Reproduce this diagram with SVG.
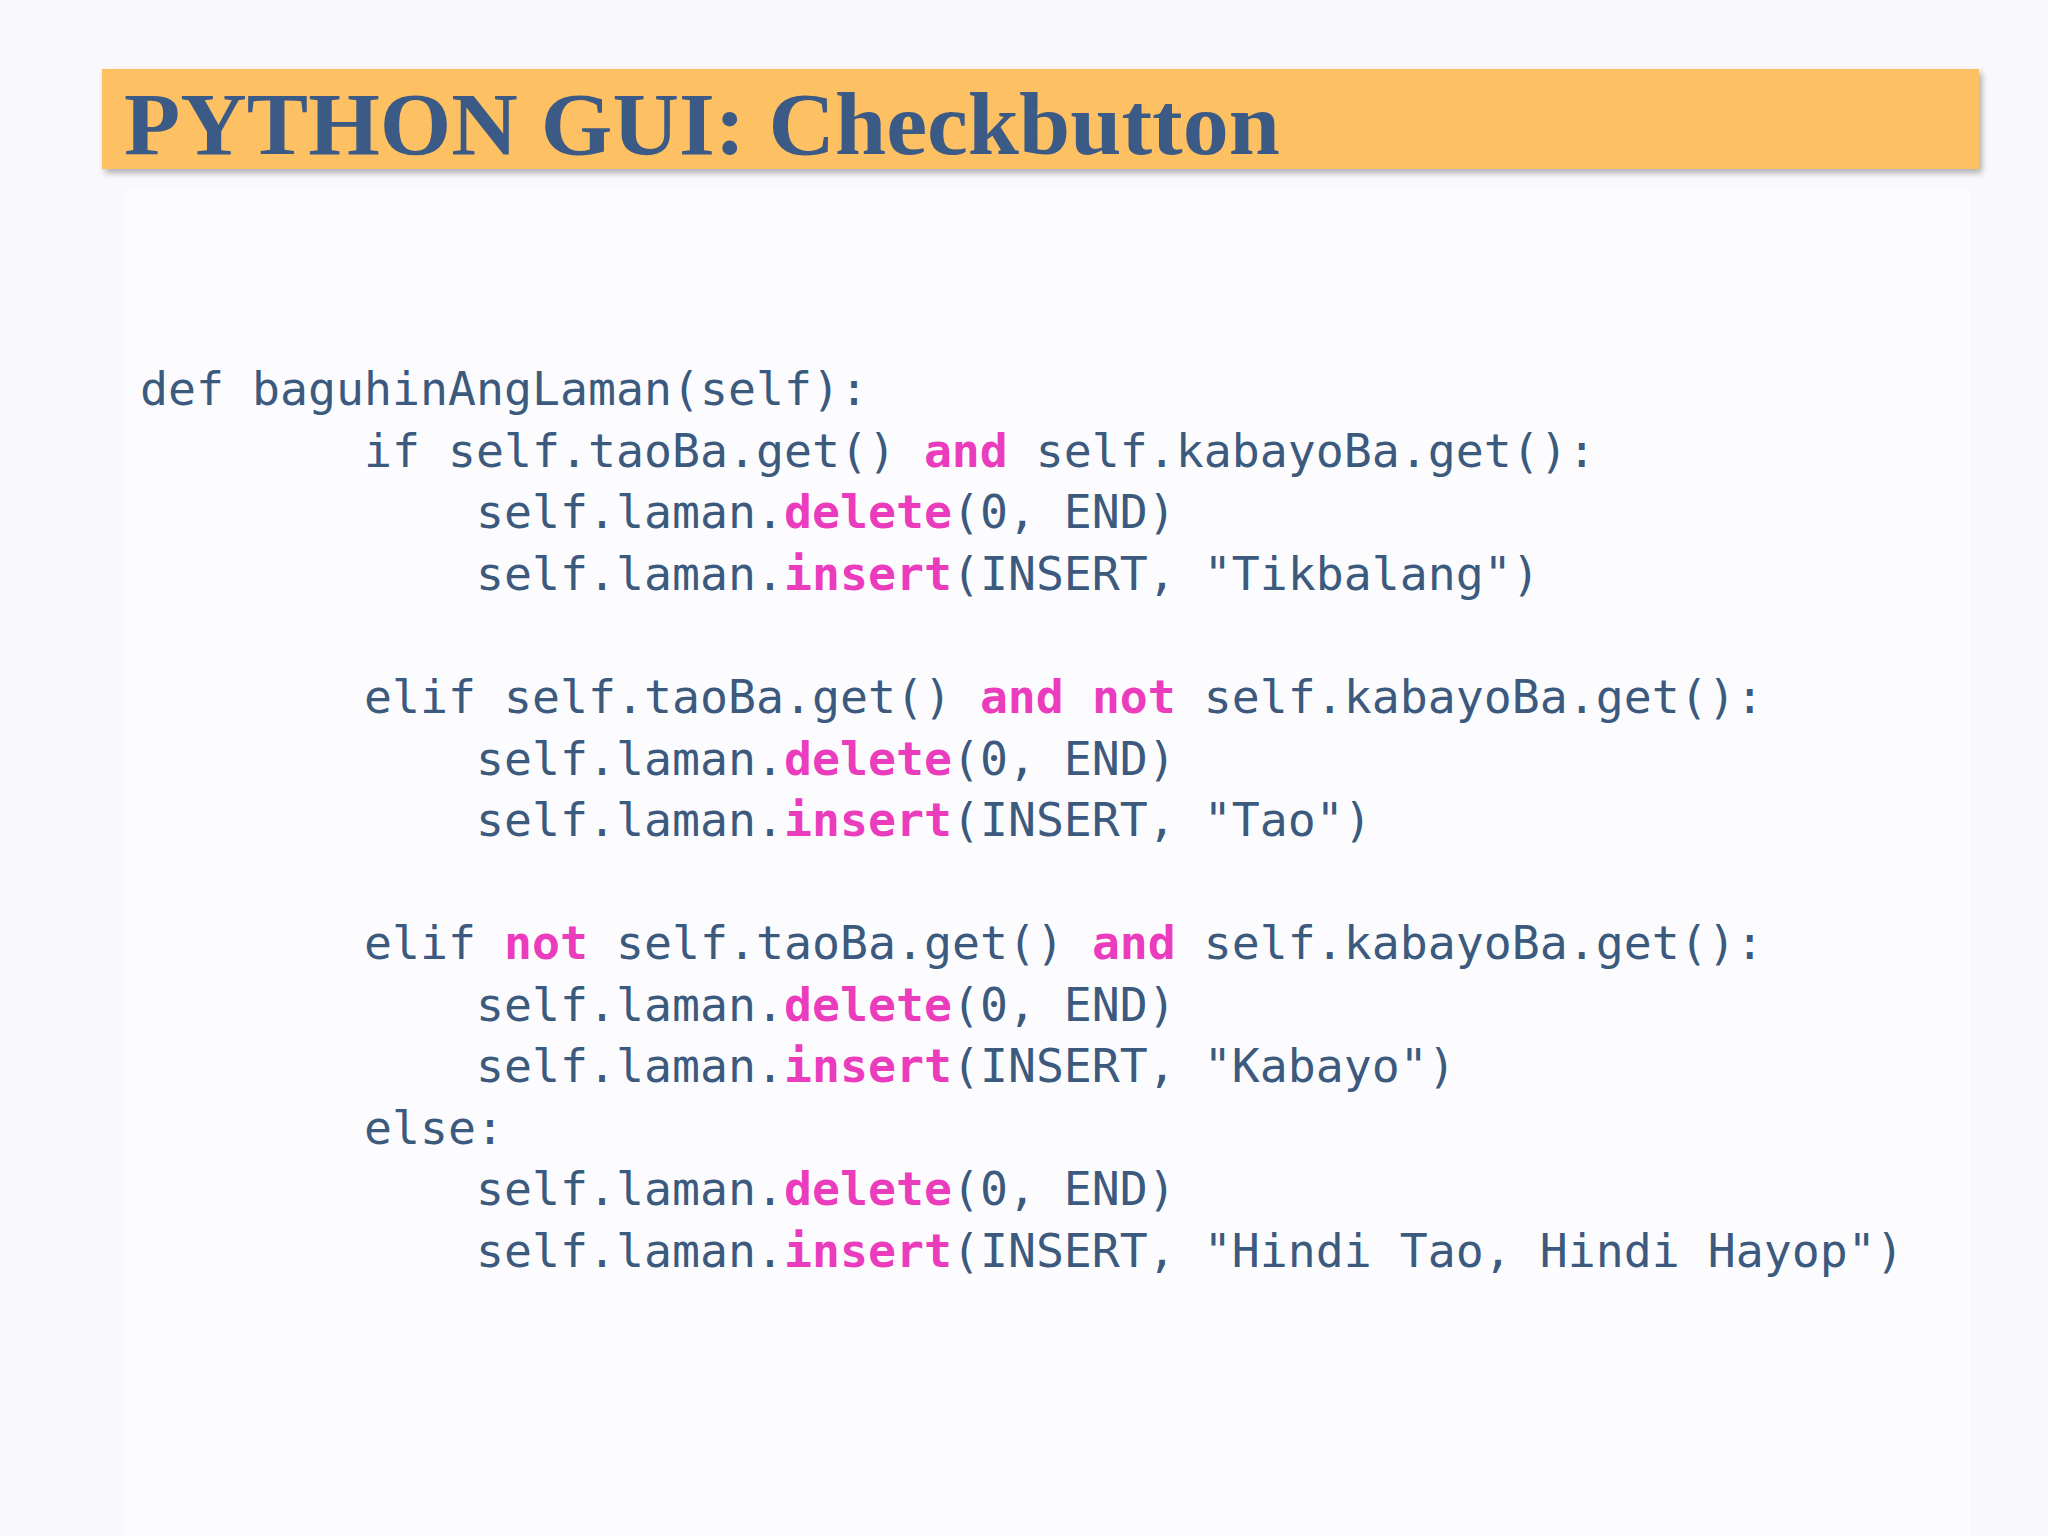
<svg xmlns="http://www.w3.org/2000/svg" width="2048" height="1536" viewBox="0 0 2048 1536">
<defs>
<style>
.c{font-family:"DejaVu Sans Mono","Liberation Mono",monospace;font-size:46.5px;fill:#3c5a7e;white-space:pre}
.k{fill:#ea3cbd;font-weight:bold}
</style>
<filter id="sh" x="-5%" y="-20%" width="110%" height="150%"><feDropShadow dx="3" dy="4" stdDeviation="3" flood-color="#000" flood-opacity="0.3"/></filter>
</defs>
<rect width="2048" height="1536" fill="#f9f9fb"/>
<rect x="125" y="190" width="1845" height="1346" fill="#fcfcfe"/>
<g id="title">
<rect x="102" y="69" width="1877" height="100" fill="#fdc062" filter="url(#sh)"/>
<text x="124" y="154" font-family="Liberation Serif, serif" font-weight="bold" font-size="88" fill="#3b5a85" textLength="1156" lengthAdjust="spacingAndGlyphs">PYTHON GUI: Checkbutton</text>
</g>
<g id="code" xml:space="preserve">
<text class="c" x="140" y="405">def baguhinAngLaman(self):</text>
<text class="c" x="140" y="467">        if self.taoBa.get() <tspan class="k">and</tspan> self.kabayoBa.get():</text>
<text class="c" x="140" y="528">            self.laman.<tspan class="k">delete</tspan>(0, END)</text>
<text class="c" x="140" y="590">            self.laman.<tspan class="k">insert</tspan>(INSERT, "Tikbalang")</text>
<text class="c" x="140" y="713">        elif self.taoBa.get() <tspan class="k">and</tspan> <tspan class="k">not</tspan> self.kabayoBa.get():</text>
<text class="c" x="140" y="775">            self.laman.<tspan class="k">delete</tspan>(0, END)</text>
<text class="c" x="140" y="836">            self.laman.<tspan class="k">insert</tspan>(INSERT, "Tao")</text>
<text class="c" x="140" y="959">        elif <tspan class="k">not</tspan> self.taoBa.get() <tspan class="k">and</tspan> self.kabayoBa.get():</text>
<text class="c" x="140" y="1021">            self.laman.<tspan class="k">delete</tspan>(0, END)</text>
<text class="c" x="140" y="1082">            self.laman.<tspan class="k">insert</tspan>(INSERT, "Kabayo")</text>
<text class="c" x="140" y="1144">        else:</text>
<text class="c" x="140" y="1205">            self.laman.<tspan class="k">delete</tspan>(0, END)</text>
<text class="c" x="140" y="1267">            self.laman.<tspan class="k">insert</tspan>(INSERT, "Hindi Tao, Hindi Hayop")</text>
</g>
</svg>
